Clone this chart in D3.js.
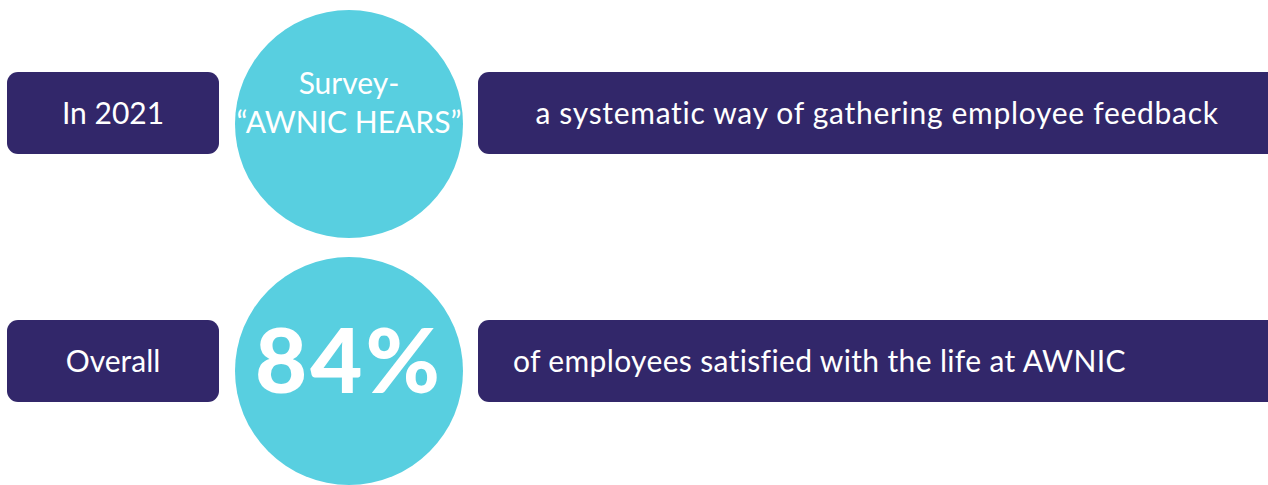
<!DOCTYPE html>
<html><head><meta charset="utf-8">
<script src="https://cdn.jsdelivr.net/npm/d3@7"></script>
<style>html,body{margin:0;padding:0;background:#fff;overflow:hidden}</style>
</head><body>
<script>
const rowLabels = ["In 2021", "Overall"];
const circleLines = [["Survey-", "\u201CAWNIC HEARS\u201D"], ["84%"]];
const descriptions = ["a systematic way of gathering employee feedback", "of employees satisfied with the life at AWNIC"];

const W = 1268, H = 485;
const navy = "#32276A", cyan = "#58CFE0";
const svg = d3.select("body").append("svg").attr("width", W).attr("height", H);

const y = d3.scalePoint().domain(rowLabels).range([113, 361]);
const font = "Lato, 'Open Sans', sans-serif";

const rows = svg.selectAll("g.row").data(rowLabels).join("g").attr("class","row");

// left boxes
rows.append("rect").attr("x", 7).attr("y", d => y(d) - 41).attr("width", 212).attr("height", 82)
  .attr("rx", 11).attr("fill", navy);
rows.append("text").attr("x", 113).attr("y", d => y(d)).attr("dy", "0.35em")
  .attr("text-anchor", "middle").attr("fill", "#fff").attr("font-family", font)
  .attr("font-size", 30).text(d => d);

// right boxes
rows.append("rect").attr("x", 478).attr("y", d => y(d) - 41).attr("width", 800).attr("height", 82)
  .attr("rx", 11).attr("fill", navy);
const descLayout = [{x: 877, a: "middle", ls: 0.7}, {x: 513, a: "start", ls: 0.35}];
rows.append("text").attr("x", (d,i) => descLayout[i].x).attr("y", d => y(d)).attr("dy", "0.35em")
  .attr("text-anchor", (d,i) => descLayout[i].a).attr("fill", "#fff").attr("font-family", font)
  .attr("font-size", 30).attr("letter-spacing", (d,i) => descLayout[i].ls).text((d,i) => descriptions[i]);

// circles
const cy = [124, 371];
rows.append("circle").attr("cx", 349).attr("cy", (d,i) => cy[i]).attr("r", 114).attr("fill", cyan);

// circle text row 1
const g0 = d3.select(rows.nodes()[0]);
g0.append("text").attr("text-anchor","middle").attr("fill","#fff").attr("font-family", font)
  .attr("font-size", 30).selectAll("tspan").data(circleLines[0]).join("tspan")
  .attr("x", 349).attr("y", (d,i) => 83 + i*39).attr("dy","0.35em").text(d => d);

// big percentage
const g1 = d3.select(rows.nodes()[1]);
g1.append("text").attr("x", 349).attr("y", 361).attr("dy","0.36em").attr("text-anchor","middle")
  .attr("fill","#fff").attr("font-family", font).attr("font-weight", 900)
  .attr("font-size", 90).attr("letter-spacing", 3).text(circleLines[1][0]);
</script>
</body></html>
